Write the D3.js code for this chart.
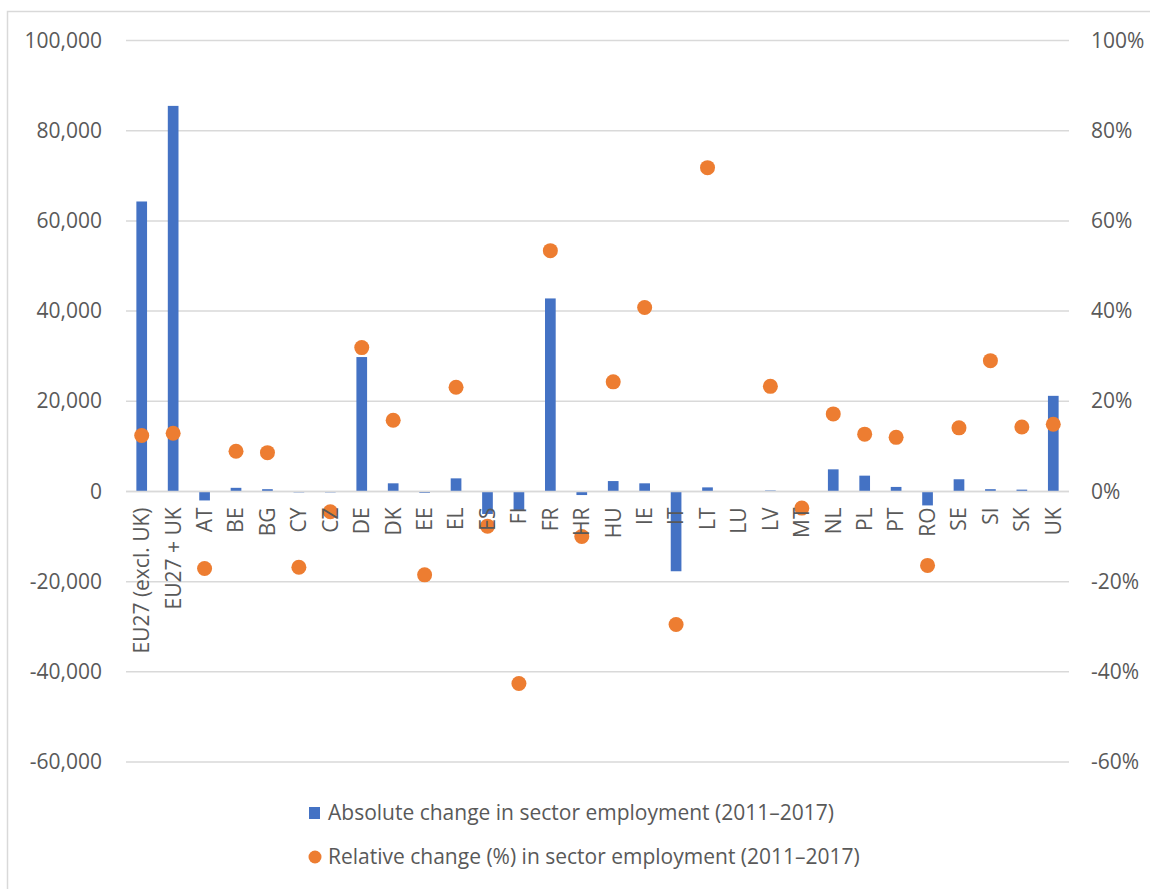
<!DOCTYPE html>
<html>
<head>
<meta charset="utf-8">
<script src="https://cdn.jsdelivr.net/npm/d3@7"></script>
<style>
  html, body { margin: 0; padding: 0; background: #fff; }
  svg { display: block; font-family: "Open Sans", "Noto Sans", sans-serif; }
</style>
</head>
<body>
<svg id="chart" width="1150" height="889"></svg>
<script>
// Sector employment change by country, 2011–2017
const categories = ["EU27 (excl. UK)", "EU27 + UK", "AT", "BE", "BG", "CY", "CZ", "DE", "DK", "EE",
  "EL", "ES", "FI", "FR", "HR", "HU", "IE", "IT", "LT", "LU",
  "LV", "MT", "NL", "PL", "PT", "RO", "SE", "SI", "SK", "UK"];

// Absolute change in persons employed
const absoluteChange = [64300, 85500, -2000, 800, 500, -200, -200, 29800, 1800, -300,
  2900, -5000, -4100, 42800, -800, 2300, 1800, -17700, 900, 0,
  200, 0, 4900, 3500, 1000, -3100, 2700, 500, 400, 21200];

// Relative change (share); LU has no value
const relativeChange = [0.124, 0.129, -0.171, 0.089, 0.086, -0.168, -0.045, 0.319, 0.158, -0.185,
  0.231, -0.077, -0.426, 0.534, -0.100, 0.243, 0.408, -0.295, 0.718, null,
  0.233, -0.037, 0.172, 0.127, 0.120, -0.164, 0.141, 0.290, 0.143, 0.149];

const leftTicks = [-60000, -40000, -20000, 0, 20000, 40000, 60000, 80000, 100000];
const rightTicks = [-0.6, -0.4, -0.2, 0, 0.2, 0.4, 0.6, 0.8, 1.0];

const seriesNames = ["Absolute change in sector employment (2011–2017)",
  "Relative change (%) in sector employment (2011–2017)"];

const BLUE = "#4472C4", ORANGE = "#ED7D31", TEXT = "#595959", GRID = "#D9D9D9";

const svg = d3.select("#chart");
const plot = { left: 126, right: 1069, top: 40.5, bottom: 762 };

const x = d3.scaleBand().domain(categories).range([plot.left, plot.right]).paddingInner(0.66).paddingOuter(0.33);
const yL = d3.scaleLinear().domain([-60000, 100000]).range([plot.bottom, plot.top]);
const yR = d3.scaleLinear().domain([-0.6, 1.0]).range([plot.bottom, plot.top]);
const cx = d => x(d) + x.bandwidth() / 2;

// Plain hyphen for negatives, as in spreadsheet number formats
const hyphen = f => d => f(d).replace("\u2212", "-");

// Frame around the chart area
svg.append("rect")
  .attr("x", 7.5).attr("y", 11.5).attr("width", 1200).attr("height", 900)
  .attr("fill", "none").attr("stroke", GRID).attr("stroke-width", 1.5);

// Horizontal gridlines
svg.append("g").selectAll("line").data(leftTicks).join("line")
  .attr("x1", plot.left).attr("x2", plot.right)
  .attr("y1", d => yL(d)).attr("y2", d => yL(d))
  .attr("stroke", GRID).attr("stroke-width", 1.5);

// Left axis (absolute)
const axisL = svg.append("g").attr("transform", `translate(${plot.left},0)`)
  .call(d3.axisLeft(yL).tickValues(leftTicks).tickFormat(hyphen(d3.format(","))).tickSize(0).tickPadding(24));
axisL.select(".domain").remove();
axisL.selectAll("text").attr("fill", TEXT).attr("font-size", 21).attr("font-family", "'Open Sans', sans-serif");

// Right axis (relative)
const axisR = svg.append("g").attr("transform", `translate(${plot.right},0)`)
  .call(d3.axisRight(yR).tickValues(rightTicks).tickFormat(hyphen(d3.format(".0%"))).tickSize(0).tickPadding(22));
axisR.select(".domain").remove();
axisR.selectAll("text").attr("fill", TEXT).attr("font-size", 21).attr("font-family", "'Open Sans', sans-serif");

// Bars
svg.append("g").selectAll("rect").data(categories.map((c, i) => ({ c, v: absoluteChange[i] }))).join("rect")
  .attr("x", d => x(d.c))
  .attr("width", x.bandwidth())
  .attr("y", d => Math.min(yL(d.v), yL(0)))
  .attr("height", d => Math.abs(yL(d.v) - yL(0)))
  .attr("fill", BLUE);

// Zero line drawn over the bars
svg.append("line")
  .attr("x1", plot.left).attr("x2", plot.right)
  .attr("y1", yL(0)).attr("y2", yL(0))
  .attr("stroke", GRID).attr("stroke-width", 1.5);

// Relative-change markers
svg.append("g").selectAll("circle")
  .data(categories.map((c, i) => ({ c, v: relativeChange[i] })).filter(d => d.v !== null))
  .join("circle")
  .attr("cx", d => cx(d.c))
  .attr("cy", d => yR(d.v))
  .attr("r", 7.5)
  .attr("fill", ORANGE);

// Category labels, rotated, drawn on top of the marks
svg.append("g").selectAll("text").data(categories).join("text")
  .attr("transform", d => `translate(${cx(d)},${yL(0) + 16}) rotate(-90)`)
  .attr("text-anchor", "end")
  .attr("dy", "0.35em")
  .attr("fill", TEXT)
  .attr("font-size", 21)
  .text(d => d);

// Legend
const legend = svg.append("g");
legend.append("rect").attr("x", 309).attr("y", 807).attr("width", 11).attr("height", 12).attr("fill", BLUE);
legend.append("text").attr("x", 328).attr("y", 813).attr("dy", "0.35em")
  .attr("fill", TEXT).attr("font-size", 21).text(seriesNames[0]);
legend.append("circle").attr("cx", 315).attr("cy", 857).attr("r", 6.5).attr("fill", ORANGE);
legend.append("text").attr("x", 328).attr("y", 857).attr("dy", "0.35em")
  .attr("fill", TEXT).attr("font-size", 21).text(seriesNames[1]);
</script>
</body>
</html>
